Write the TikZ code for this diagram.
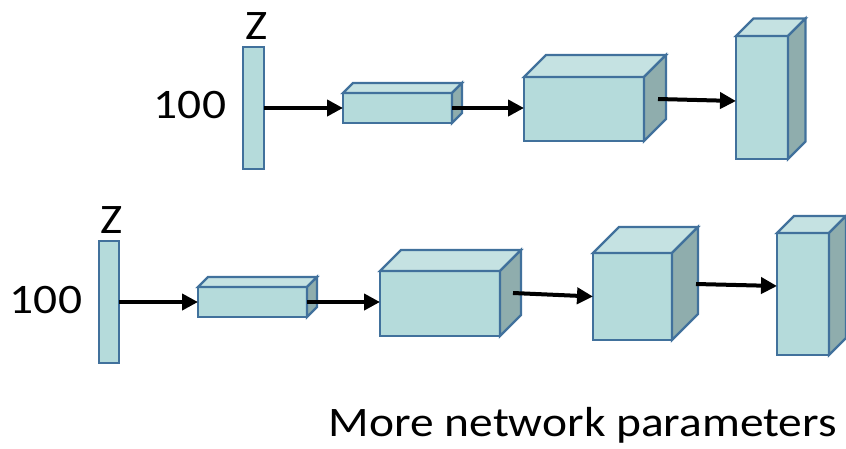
\documentclass[tikz,border=0pt]{standalone}
\usepackage{fontspec}
\setmainfont{Carlito}[FakeStretch=1.13]
\usetikzlibrary{arrows.meta,calc}

\definecolor{edgeblue}{RGB}{65,113,156}
\definecolor{frontfill}{RGB}{181,219,219}
\definecolor{topfill}{RGB}{197,226,226}
\definecolor{sidefill}{RGB}{143,173,173}

\tikzset{
  face/.style={draw=edgeblue, line width=2.4pt, line join=miter},
  front/.style={face, fill=frontfill, rectangle, inner sep=0pt, outer sep=0pt},
  topface/.style={face, fill=topfill},
  sideface/.style={face, fill=sidefill},
  flow/.style={line width=4pt, -{Triangle[length=16pt,width=16pt]}},
  lbl/.style={inner sep=0pt, font=\fontsize{42}{50}\selectfont},
}

% cuboid: name, front face x1, y1, x2, y2, depth
\newcommand\cuboid[6]{%
  \node[front, minimum width={(#4-#2)*1pt}, minimum height={(#5-#3)*1pt}]
    (#1) at ({(#2+#4)/2},{(#3+#5)/2}) {};
  \draw[topface] (#1.north west) -- ($(#1.north west)+(#6,-#6)$)
    -- ($(#1.north east)+(#6,-#6)$) -- (#1.north east) -- cycle;
  \draw[sideface] (#1.north east) -- ($(#1.north east)+(#6,-#6)$)
    -- ($(#1.south east)+(#6,-#6)$) -- (#1.south east) -- cycle;
}

\begin{document}
\begin{tikzpicture}[x=1pt, y=-1pt]
\useasboundingbox (0,0) rectangle (846,448);

% upper generator
\node[front, minimum width=21pt, minimum height=122pt] (za) at (253.5,108) {};
\node[lbl, anchor=base] (zalbl) at (257,39) {Z};
\node[lbl, anchor=base] (nalbl) at (190,118) {100};
\cuboid{a1}{343}{93}{452}{123}{10}
\cuboid{a2}{524}{77}{644}{141}{22}
\cuboid{a3}{736}{36}{788}{159}{17.5}
\draw[flow] (za.east) -- (za.east -| a1.west);
\draw[flow] (a1.east) -- (a1.east -| a2.west);
\draw[flow] ([xshift=14pt,yshift=10pt]a2.east) -- ([yshift=-3.5pt]a3.west);

% lower generator
\node[front, minimum width=20pt, minimum height=122pt] (zb) at (109,302) {};
\node[lbl, anchor=base] (zblbl) at (112,233) {Z};
\node[lbl, anchor=base] (nblbl) at (46,313) {100};
\cuboid{b1}{198}{287}{307}{317}{10}
\cuboid{b2}{380}{271}{500}{336}{21}
\cuboid{b3}{593}{253}{672}{340}{26}
\cuboid{b4}{777}{233}{829}{355}{17}
\draw[flow] (zb.east) -- (zb.east -| b1.west);
\draw[flow] (b1.east) -- (b1.east -| b2.west);
\draw[flow] ([xshift=13pt,yshift=10.5pt]b2.east) -- (b3.west);
\draw[flow] ([xshift=24pt,yshift=12.5pt]b3.east) -- ([yshift=8pt]b4.west);

\node[lbl, anchor=base east] (caption) at (837,436) {More network parameters};
\end{tikzpicture}
\end{document}
